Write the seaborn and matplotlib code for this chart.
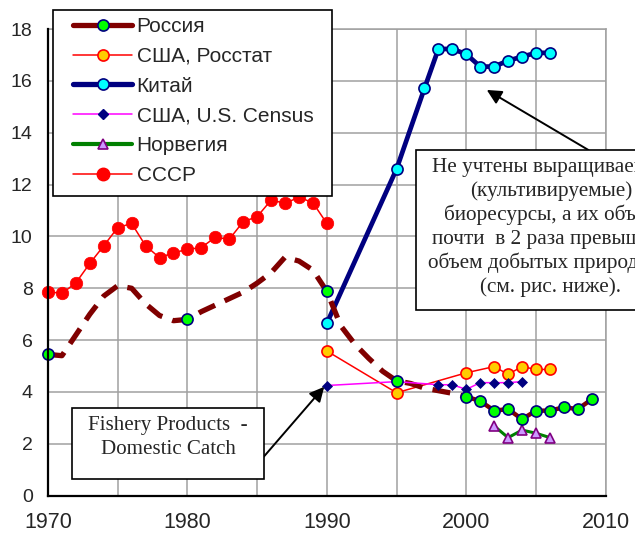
import matplotlib
matplotlib.use("Agg")
import matplotlib.pyplot as plt
import seaborn as sns
from matplotlib.lines import Line2D
from matplotlib.patches import Rectangle

# ---------------- data ----------------
ussr_years = list(range(1970, 1991))
ussr_vals = [7.87, 7.80, 8.21, 8.96, 9.64, 10.34, 10.50, 9.64, 9.18, 9.37, 9.50,
             9.57, 9.97, 9.89, 10.57, 10.76, 11.40, 11.28, 11.51, 11.30, 10.50]

russia_trend_years = list(range(1970, 2001))
russia_trend_vals = [5.45, 5.40, 6.20, 7.00, 7.70, 8.10, 8.00, 7.40, 6.95, 6.75, 6.80,
                     7.10, 7.35, 7.60, 7.85, 8.20, 8.60, 9.20, 9.05, 8.70, 7.88,
                     6.55, 5.85, 5.30, 4.80, 4.43, 4.33, 4.15, 4.05, 3.95, 3.82]

russia_years = [1970, 1980, 1990, 1995, 2000, 2001, 2002, 2003, 2004, 2005, 2006, 2007, 2008, 2009]
russia_vals = [5.45, 6.80, 7.88, 4.43, 3.82, 3.65, 3.28, 3.34, 2.95, 3.28, 3.28, 3.41, 3.34, 3.72]

china_years = [1990, 1995, 1997, 1998, 1999, 2000, 2001, 2002, 2003, 2004, 2005, 2006]
china_vals = [6.65, 12.60, 15.71, 17.23, 17.23, 17.03, 16.55, 16.55, 16.78, 16.93, 17.08, 17.08]

rosstat_years = [1990, 1995, 2000, 2002, 2003, 2004, 2005, 2006]
rosstat_vals = [5.58, 3.97, 4.74, 4.98, 4.68, 4.98, 4.87, 4.87]

census_years = [1990, 1995, 1998, 1999, 2000, 2001, 2002, 2003, 2004]
census_vals = [4.25, 4.40, 4.28, 4.28, 4.10, 4.36, 4.36, 4.36, 4.40]

norway_years = [2002, 2003, 2004, 2005, 2006]
norway_vals = [2.69, 2.24, 2.53, 2.41, 2.24]

labels = ["Россия", "США, Росстат", "Китай", "США, U.S. Census", "Норвегия", "СССР"]
x_ticks = list(range(1970, 2011, 5))
x_ticklabels = ["1970", "", "1980", "", "1990", "", "2000", "", "2010"]
y_ticks = list(range(0, 19, 2))

note_lines = ["Не учтены выращиваемые", "(культивируемые)", "биоресурсы, а их объем",
              "почти  в 2 раза превышает", "объем добытых природных", "(см. рис. ниже)."]
fish_lines = ["Fishery Products  -", "Domestic Catch"]

# ---------------- style ----------------
sns.set_style("white")
plt.rcParams["font.family"] = ["Liberation Sans", "DejaVu Sans"]

W, H = 635, 538
fig = plt.figure(figsize=(W / 100, H / 100), dpi=100)
fig.patch.set_facecolor("white")


def fx(px):
    return px / W


def fy(py):
    return 1 - py / H


ax_l, ax_r, ax_t, ax_b = 48, 605.7, 29, 495.7
ax = fig.add_axes([fx(ax_l), fy(ax_b), (ax_r - ax_l) / W, (ax_b - ax_t) / H])

NAVY = "#000080"
DRED = "#800000"

common = dict(ax=ax, estimator=None, sort=False, errorbar=None, legend=False)

# СССР
sns.lineplot(x=ussr_years, y=ussr_vals, color="#FF0000", lw=1.1, marker="o", ms=9,
             markerfacecolor="#FF0000", markeredgecolor="#FF0000", markeredgewidth=0.5,
             zorder=3, clip_on=False, **common)
# США, Росстат
sns.lineplot(x=rosstat_years, y=rosstat_vals, color="#FF0000", lw=1.1, marker="o", ms=8,
             markerfacecolor="#FFCC00", markeredgecolor="#FF0000", markeredgewidth=1.2,
             zorder=3, **common)
# Китай
sns.lineplot(x=china_years, y=china_vals, color=NAVY, lw=3.4, marker="o", ms=8,
             markerfacecolor="#00FFFF", markeredgecolor=NAVY, markeredgewidth=1.2,
             zorder=4, **common)
# Россия solid part (2000+)
r_solid_x = [y for y in russia_years if y >= 2000]
r_solid_y = [v for y, v in zip(russia_years, russia_vals) if y >= 2000]
sns.lineplot(x=r_solid_x, y=r_solid_y, color=DRED, lw=3.2, zorder=4, **common)
# Россия dashed trend
sns.lineplot(x=russia_trend_years, y=russia_trend_vals, color=DRED, lw=3.8,
             linestyle=(0, (3.4, 2.0)), zorder=5, clip_on=False, **common)
# Россия markers
sns.lineplot(x=russia_years, y=russia_vals, color=DRED, linestyle="none", marker="o", ms=8,
             markerfacecolor="#00FF00", markeredgecolor=NAVY, markeredgewidth=1.2,
             zorder=6, clip_on=False, **common)
# США, U.S. Census
sns.lineplot(x=census_years, y=census_vals, color="#FF00FF", lw=1.1, marker="D", ms=5,
             markerfacecolor=NAVY, markeredgecolor=NAVY, markeredgewidth=0.5,
             zorder=5.5, **common)
# Норвегия
sns.lineplot(x=norway_years, y=norway_vals, color="#008000", lw=2.2, marker="^", ms=7,
             markerfacecolor="#CC99FF", markeredgecolor="#800080", markeredgewidth=1.2,
             zorder=4, **common)

# ---------------- axes ----------------
ax.set_xlim(1970, 2010)
ax.set_ylim(0, 18)
ax.set_xticks(x_ticks)
ax.set_xticklabels(x_ticklabels)
ax.set_yticks(y_ticks)
ax.set_xlabel("")
ax.set_ylabel("")
ax.grid(True, color="#A0A0A0", lw=1.1)
ax.set_axisbelow(True)
for s in ["left", "bottom"]:
    ax.spines[s].set_color("black")
    ax.spines[s].set_linewidth(1.6)
    ax.spines[s].set_zorder(7)
for s in ["top", "right"]:
    ax.spines[s].set_color("#A0A0A0")
    ax.spines[s].set_linewidth(1.1)
ax.tick_params(axis="both", direction="out", length=6, width=1.4, color="black")
ax.tick_params(axis="x", labelsize=15.5, pad=6)
ax.tick_params(axis="y", labelsize=14, pad=5)

# ---------------- legend ----------------
leg_rect = Rectangle((fx(53), fy(196)), (332 - 53) / W, (196 - 10) / H, transform=fig.transFigure,
                     facecolor="white", edgecolor="black", lw=1.2, zorder=2)
fig.add_artist(leg_rect)
handles = [
    Line2D([], [], color=DRED, lw=3.8, marker="o", ms=8, mfc="#00FF00", mec=NAVY, mew=1.2),
    Line2D([], [], color="#FF0000", lw=1.1, marker="o", ms=8, mfc="#FFCC00", mec="#FF0000", mew=1.2),
    Line2D([], [], color=NAVY, lw=3.8, marker="o", ms=8, mfc="#00FFFF", mec=NAVY, mew=1.2),
    Line2D([], [], color="#FF00FF", lw=1.1, marker="D", ms=5, mfc=NAVY, mec=NAVY),
    Line2D([], [], color="#008000", lw=3.0, marker="^", ms=7, mfc="#CC99FF", mec="#800080", mew=1.2),
    Line2D([], [], color="#FF0000", lw=1.1, marker="o", ms=9, mfc="#FF0000", mec="#FF0000"),
]
leg = fig.legend(handles=handles, labels=labels, loc="upper left",
                 bbox_to_anchor=(fx(73), fy(17)), bbox_transform=fig.transFigure,
                 frameon=False, borderpad=0, borderaxespad=0, fontsize=15,
                 handlelength=2.85, handletextpad=0.2, labelspacing=0.52, numpoints=1)
leg.set_zorder(3)

# ---------------- annotations ----------------
serif = ["Liberation Serif", "DejaVu Serif"]
note_rect = Rectangle((fx(415.7), fy(310)), (690 - 415.7) / W, (310 - 150) / H,
                      transform=fig.transFigure, facecolor="white", edgecolor="black",
                      lw=1.2, zorder=2)
fig.add_artist(note_rect)
for i, line in enumerate(note_lines):
    fig.text(fx(551), fy(172 + 24 * i), line, ha="center", va="baseline",
             fontsize=15.3, family=serif, zorder=3)

fish_rect = Rectangle((fx(71.7), fy(479)), (264.3 - 71.7) / W, (479 - 407.7) / H,
                      transform=fig.transFigure, facecolor="white", edgecolor="black",
                      lw=1.2, zorder=2)
fig.add_artist(fish_rect)
for i, line in enumerate(fish_lines):
    fig.text(fx(168), fy(430 + 24 * i), line, ha="center", va="baseline",
             fontsize=15.1, family=serif, zorder=3)

arrow = dict(arrowstyle="-|>", color="black", lw=1.4, mutation_scale=22, shrinkA=0, shrinkB=0)
ax.annotate("", xy=(2001.47, 15.65), xytext=(2008.77, 13.33), arrowprops=arrow,
            annotation_clip=False, zorder=6)
ax.annotate("", xy=(1989.81, 4.20), xytext=(1985.47, 1.50), arrowprops=arrow,
            annotation_clip=False, zorder=6)

fig.savefig("out.png", dpi=100)
